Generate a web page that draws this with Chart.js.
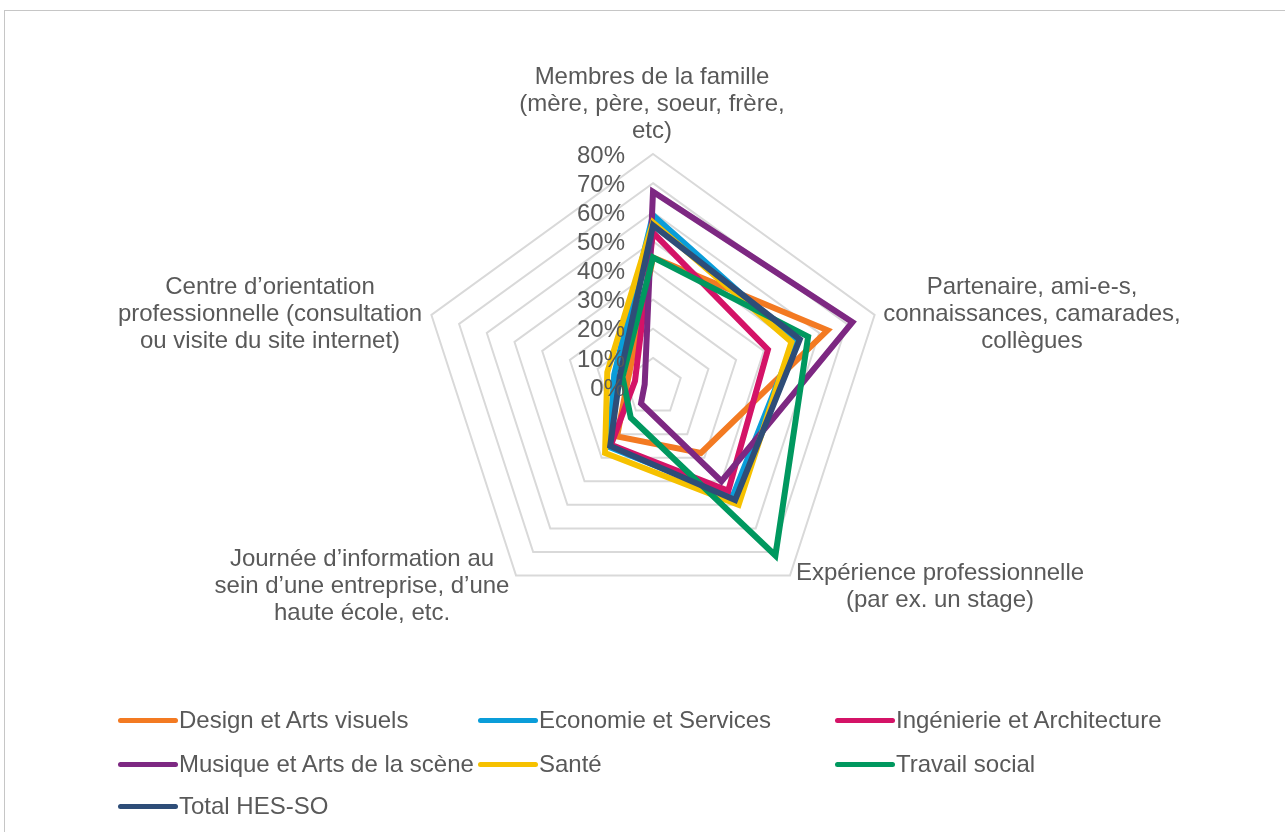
<!DOCTYPE html>
<html>
<head>
<meta charset="utf-8">
<script src="https://cdn.jsdelivr.net/npm/chart.js@4.4.0/dist/chart.umd.min.js"></script>
<style>
  html, body { margin: 0; padding: 0; background: #fff; overflow: hidden; }
  #wrap { position: relative; width: 1285px; height: 832px; }
  #frame { position: absolute; left: 4px; top: 10px; width: 1300px; height: 900px;
           border: 1px solid #c6c6c6; pointer-events: none; }
  canvas { position: absolute; left: 0; top: 0; }
  .leg { position: absolute; display: flex; align-items: center; height: 28px;
         font: 24px "Liberation Sans", Arial, sans-serif; color: #595959; white-space: nowrap; }
  .leg span.sw { display: inline-block; width: 60px; height: 5px; border-radius: 3px; margin-right: 1px; }
</style>
</head>
<body>
<div id="wrap">
  <canvas id="radar" width="1285" height="832"></canvas>
  <div id="frame"></div>
  <div id="legend"></div>
</div>
<script>
// Axes (top, then clockwise)
const categories = [
    ["Membres de la famille", "(mère, père, soeur, frère,", "etc)"],
    ["Partenaire, ami-e-s,", "connaissances, camarades,", "collègues"],
    ["Expérience professionnelle", "(par ex. un stage)"],
    ["Journée d’information au", "sein d’une entreprise, d’une", "haute école, etc."],
    ["Centre d’orientation", "professionnelle (consultation", "ou visite du site internet)"]
];

// Valeurs en %
const design     = [44.5, 63, 28, 21, 9];
const economie   = [59, 51, 46.5, 25.5, 14];
const ingenierie = [53, 41.5, 44, 24.5, 6.5];
const musique    = [67, 72, 40, 7, 3];
const sante      = [56.5, 50, 50, 28, 16.5];
const travail    = [44.5, 56, 71.5, 13, 11];
const total      = [55.5, 53, 48, 25, 12];

const seriesNames = [
    "Design et Arts visuels", "Economie et Services", "Ingénierie et Architecture",
    "Musique et Arts de la scène", "Santé", "Travail social", "Total HES-SO"
];
const seriesValues = [design, economie, ingenierie, musique, sante, travail, total];
const seriesColors = ['#F37A22', '#0A9DD9', '#D41367', '#7D2882', '#F6C100', '#00985F', '#2E4D78'];

const tickValues = [0, 10, 20, 30, 40, 50, 60, 70, 80];

const FONT = '24px "Liberation Sans", Arial, sans-serif';
const TEXT = '#595959';

// position des libellés d'axes (centre x, premier y)
const labelLayout = [
    { x: 652, y: 77 },
    { x: 1032, y: 287 },
    { x: 940, y: 573 },
    { x: 362, y: 559 },
    { x: 270, y: 287 }
];

const labelsPlugin = {
    id: 'excelLabels',
    afterDraw(chart) {
        const ctx = chart.ctx;
        const scale = chart.scales.r;
        ctx.save();
        ctx.font = FONT;
        ctx.fillStyle = TEXT;
        ctx.textBaseline = 'middle';

        // tick labels à gauche de l'axe vertical
        ctx.textAlign = 'right';
        tickValues.forEach(v => {
            const d = scale.getDistanceFromCenterForValue(v);
            ctx.fillText(v + '%', scale.xCenter - 28, scale.yCenter - d + 2);
        });

        // libellés des axes
        ctx.textAlign = 'center';
        categories.forEach((lines, i) => {
            const pos = labelLayout[i];
            lines.forEach((line, j) => {
                ctx.fillText(line, pos.x, pos.y + j * 27);
            });
        });
        ctx.restore();
    }
};

new Chart(document.getElementById('radar'), {
    type: 'radar',
    data: {
        labels: categories,
        datasets: seriesValues.map((vals, i) => ({
            label: seriesNames[i],
            data: vals,
            borderColor: seriesColors[i],
            backgroundColor: seriesColors[i],
            borderWidth: 6,
            borderJoinStyle: 'miter',
            fill: false,
            pointRadius: 0,
            pointHoverRadius: 0,
            tension: 0,
            order: seriesValues.length - i
        }))
    },
    options: {
        responsive: false,
        devicePixelRatio: 1,
        animation: false,
        layout: { padding: { left: 420, right: 399, top: 154, bottom: 212 } },
        plugins: {
            legend: { display: false },
            tooltip: { enabled: false }
        },
        scales: {
            r: {
                min: 0,
                max: 80,
                ticks: { stepSize: 10, display: false },
                grid: { color: '#d9d9d9', lineWidth: 2 },
                angleLines: { display: false },
                pointLabels: { display: false }
            }
        }
    },
    plugins: [labelsPlugin]
});

// Légende en trois colonnes
const legend = document.getElementById('legend');
const colX = [118, 478, 835];
const rowY = [706, 750, 792];
seriesNames.forEach((name, i) => {
    const item = document.createElement('div');
    item.className = 'leg';
    item.style.left = colX[i % 3] + 'px';
    item.style.top = rowY[Math.floor(i / 3)] + 'px';
    item.innerHTML = '<span class="sw" style="background:' + seriesColors[i] + '"></span>' + name;
    legend.appendChild(item);
});
</script>
</body>
</html>
